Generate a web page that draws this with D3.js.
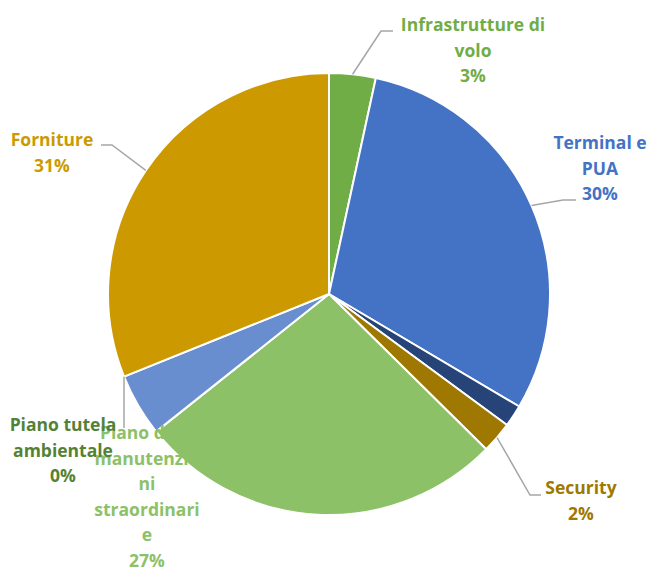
<!DOCTYPE html>
<html>
<head>
<meta charset="utf-8">
<script src="https://cdn.jsdelivr.net/npm/d3@7"></script>
<style>
  body { margin: 0; background: #fff; }
  svg { display: block; }
  text { font-family: "Open Sans", Lato, sans-serif; font-weight: 700; }
</style>
</head>
<body>
<script>
"use strict";

// categories in clockwise order from 12 o'clock
const categories = ["Infrastrutture di volo", "Terminal e PUA", "Altro 1", "Security",
    "Piano di manutenzioni straordinarie", "Altro 2", "Piano tutela ambientale", "Forniture"];
const values = [3.4, 30.1, 1.6, 2.3, 26.9, 4.6, 0, 31.1];
const sliceColors = ["#70AD47", "#4472C4", "#264478", "#9E7800", "#8CC168", "#698ED0", "#548235", "#CC9A00"];
const labelColors = ["#70AD47", "#4472C4", null, "#9E7800", "#8CC168", null, "#548235", "#CC9A00"];
// wrapped label lines (null = label not shown)
const labelLines = [
    ["Infrastrutture di", "volo"],
    ["Terminal e", "PUA"],
    null,
    ["Security"],
    ["Piano di", "manutenzio", "ni", "straordinari", "e"],
    null,
    ["Piano tutela", "ambientale"],
    ["Forniture"]
];

(function () {
    const measurements = { width: 649, height: 572, cx: 329, cy: 294, radius: 221 };

    // where Excel put each label (center x, first line center y) and leader elbow
    const labelLayout = {
        0: { x: 473, y: 25, elbow: [381, 31], end: 393 },
        1: { x: 600, y: 143, elbow: [563, 200], end: 576 },
        3: { x: 581, y: 488, elbow: [530, 495], end: 541 },
        4: { x: 147, y: 433, firstDx: -12 },
        6: { x: 63, y: 425, elbow: [124, 428], end: 124 },
        7: { x: 52, y: 140, elbow: [112, 145], end: 101 }
    };
    const lineHeight = 25.5;

    const svg = d3.select("body").append("svg")
        .attr("width", measurements.width)
        .attr("height", measurements.height);

    const data = categories.map((c, i) => ({ name: c, value: values[i], i: i }));

    const pie = d3.pie().sort(null).value(d => d.value);
    const arcs = pie(data);

    const arc = d3.arc().innerRadius(0).outerRadius(measurements.radius);

    const g = svg.append("g")
        .attr("transform", `translate(${measurements.cx},${measurements.cy})`);

    g.selectAll("path.slice")
        .data(arcs.filter(a => a.data.value > 0))
        .enter()
        .append("path")
        .attr("class", "slice")
        .attr("d", arc)
        .attr("fill", d => sliceColors[d.data.i])
        .attr("stroke", "#fff")
        .attr("stroke-width", 2)
        .attr("stroke-linejoin", "round");

    // point on the rim at the middle of a slice
    function rimPoint(a) {
        const ang = (a.startAngle + a.endAngle) / 2;
        return [measurements.cx + measurements.radius * Math.sin(ang),
                measurements.cy - measurements.radius * Math.cos(ang)];
    }

    // leader lines
    arcs.forEach(a => {
        const lay = labelLayout[a.data.i];
        if (!lay || !lay.elbow) return;
        const p = rimPoint(a);
        const pts = [p, lay.elbow, [lay.end, lay.elbow[1]]];
        svg.append("path")
            .attr("d", d3.line()(pts))
            .attr("fill", "none")
            .attr("stroke", "#A6A6A6")
            .attr("stroke-width", 1.5);
    });

    // labels: manutenzioni first so the others sit on top
    const order = [4, 0, 1, 3, 7, 6];
    order.forEach(i => {
        const lay = labelLayout[i];
        const lines = labelLines[i].concat([Math.round(values[i]) + "%"]);
        const t = svg.append("text")
            .attr("text-anchor", "middle")
            .attr("font-size", 17.5)
            .attr("fill", labelColors[i]);
        lines.forEach((ln, k) => {
            t.append("tspan")
                .attr("x", lay.x + (k === 0 && lay.firstDx ? lay.firstDx : 0))
                .attr("y", lay.y + k * lineHeight)
                .attr("dy", "0.35em")
                .text(ln);
        });
    });
})();
</script>
</body>
</html>
